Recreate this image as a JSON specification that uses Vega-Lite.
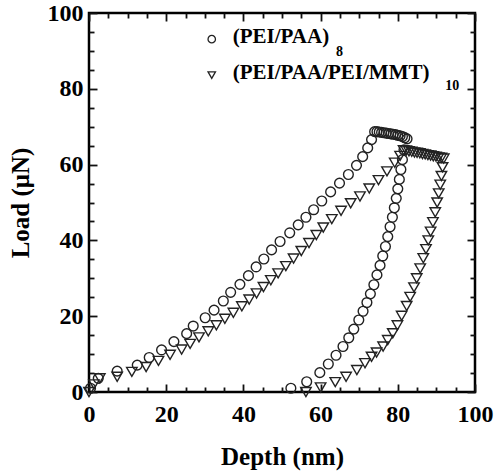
{
  "$schema": "https://vega.github.io/schema/vega-lite/v6.json",
  "width": 386,
  "height": 379,
  "autosize": "none",
  "padding": {"left": 89, "top": 13, "right": 20, "bottom": 83},
  "config": {
    "font": "Liberation Serif",
    "view": {"stroke": "#000", "strokeWidth": 2.5},
    "axis": {
      "domain": false,
      "grid": false,
      "ticks": true,
      "tickColor": "#111",
      "tickWidth": 1.8,
      "tickOpacity": 1,
      "zindex": 1,
      "labelFont": "Liberation Serif",
      "labelFontWeight": "bold",
      "labelFontSize": 24,
      "labelColor": "#000",
      "titleFont": "Liberation Serif",
      "titleFontWeight": "bold",
      "titleFontSize": 25,
      "titleColor": "#000"
    }
  },
  "datasets": {
    "curves": [
      {"series": "PEI/PAA", "depth": 0.4, "load": 1.0},
      {"series": "PEI/PAA", "depth": 2.4, "load": 3.6},
      {"series": "PEI/PAA", "depth": 7.3, "load": 5.5},
      {"series": "PEI/PAA", "depth": 12.5, "load": 7.1},
      {"series": "PEI/PAA", "depth": 15.6, "load": 9.1},
      {"series": "PEI/PAA", "depth": 18.8, "load": 11.1},
      {"series": "PEI/PAA", "depth": 22.0, "load": 13.3},
      {"series": "PEI/PAA", "depth": 25.3, "load": 15.4},
      {"series": "PEI/PAA", "depth": 27.0, "load": 17.4},
      {"series": "PEI/PAA", "depth": 30.1, "load": 19.6},
      {"series": "PEI/PAA", "depth": 32.4, "load": 21.6},
      {"series": "PEI/PAA", "depth": 34.8, "load": 24.0},
      {"series": "PEI/PAA", "depth": 36.7, "load": 26.3},
      {"series": "PEI/PAA", "depth": 39.1, "load": 28.4},
      {"series": "PEI/PAA", "depth": 41.3, "load": 30.7},
      {"series": "PEI/PAA", "depth": 43.3, "load": 33.0},
      {"series": "PEI/PAA", "depth": 45.3, "load": 35.1},
      {"series": "PEI/PAA", "depth": 47.3, "load": 37.5},
      {"series": "PEI/PAA", "depth": 49.5, "load": 39.7},
      {"series": "PEI/PAA", "depth": 52.0, "load": 42.0},
      {"series": "PEI/PAA", "depth": 54.2, "load": 44.1},
      {"series": "PEI/PAA", "depth": 56.2, "load": 46.1},
      {"series": "PEI/PAA", "depth": 58.2, "load": 48.1},
      {"series": "PEI/PAA", "depth": 60.3, "load": 50.4},
      {"series": "PEI/PAA", "depth": 62.6, "load": 52.8},
      {"series": "PEI/PAA", "depth": 64.9, "load": 55.1},
      {"series": "PEI/PAA", "depth": 67.2, "load": 57.4},
      {"series": "PEI/PAA", "depth": 69.3, "load": 59.8},
      {"series": "PEI/PAA", "depth": 70.9, "load": 62.1},
      {"series": "PEI/PAA", "depth": 72.2, "load": 64.4},
      {"series": "PEI/PAA", "depth": 73.2, "load": 66.6},
      {"series": "PEI/PAA", "depth": 74.0, "load": 68.7},
      {"series": "PEI/PAA", "depth": 74.6, "load": 68.7},
      {"series": "PEI/PAA", "depth": 75.2, "load": 68.6},
      {"series": "PEI/PAA", "depth": 75.8, "load": 68.5},
      {"series": "PEI/PAA", "depth": 76.4, "load": 68.4},
      {"series": "PEI/PAA", "depth": 77.0, "load": 68.3},
      {"series": "PEI/PAA", "depth": 77.6, "load": 68.2},
      {"series": "PEI/PAA", "depth": 78.2, "load": 68.1},
      {"series": "PEI/PAA", "depth": 78.8, "load": 68.0},
      {"series": "PEI/PAA", "depth": 79.4, "load": 67.9},
      {"series": "PEI/PAA", "depth": 80.0, "load": 67.7},
      {"series": "PEI/PAA", "depth": 80.6, "load": 67.6},
      {"series": "PEI/PAA", "depth": 81.2, "load": 67.4},
      {"series": "PEI/PAA", "depth": 81.8, "load": 67.1},
      {"series": "PEI/PAA", "depth": 82.4, "load": 66.8},
      {"series": "PEI/PAA", "depth": 81.6, "load": 63.9},
      {"series": "PEI/PAA", "depth": 81.2, "load": 61.3},
      {"series": "PEI/PAA", "depth": 80.8, "load": 58.7},
      {"series": "PEI/PAA", "depth": 80.4, "load": 56.1},
      {"series": "PEI/PAA", "depth": 80.0, "load": 53.6},
      {"series": "PEI/PAA", "depth": 79.6, "load": 51.1},
      {"series": "PEI/PAA", "depth": 79.1, "load": 48.6},
      {"series": "PEI/PAA", "depth": 78.6, "load": 46.1},
      {"series": "PEI/PAA", "depth": 78.0, "load": 43.6},
      {"series": "PEI/PAA", "depth": 77.4, "load": 41.0},
      {"series": "PEI/PAA", "depth": 76.8, "load": 38.4},
      {"series": "PEI/PAA", "depth": 76.1, "load": 35.9},
      {"series": "PEI/PAA", "depth": 75.4, "load": 33.4},
      {"series": "PEI/PAA", "depth": 74.6, "load": 30.9},
      {"series": "PEI/PAA", "depth": 73.8, "load": 28.3},
      {"series": "PEI/PAA", "depth": 72.9, "load": 25.9},
      {"series": "PEI/PAA", "depth": 72.0, "load": 23.6},
      {"series": "PEI/PAA", "depth": 71.0, "load": 21.3},
      {"series": "PEI/PAA", "depth": 69.9, "load": 19.0},
      {"series": "PEI/PAA", "depth": 68.6, "load": 16.6},
      {"series": "PEI/PAA", "depth": 67.3, "load": 14.3},
      {"series": "PEI/PAA", "depth": 65.8, "load": 12.0},
      {"series": "PEI/PAA", "depth": 64.0, "load": 9.7},
      {"series": "PEI/PAA", "depth": 62.0, "load": 7.4},
      {"series": "PEI/PAA", "depth": 59.8, "load": 5.1},
      {"series": "PEI/PAA", "depth": 56.4, "load": 2.7},
      {"series": "PEI/PAA", "depth": 52.3, "load": 1.0},

      {"series": "PEI/PAA/PEI/MMT", "depth": 0.0, "load": 0.0},
      {"series": "PEI/PAA/PEI/MMT", "depth": 1.3, "load": 2.0},
      {"series": "PEI/PAA/PEI/MMT", "depth": 2.8, "load": 3.6},
      {"series": "PEI/PAA/PEI/MMT", "depth": 7.3, "load": 4.0},
      {"series": "PEI/PAA/PEI/MMT", "depth": 11.1, "load": 5.3},
      {"series": "PEI/PAA/PEI/MMT", "depth": 14.8, "load": 6.6},
      {"series": "PEI/PAA/PEI/MMT", "depth": 18.0, "load": 8.2},
      {"series": "PEI/PAA/PEI/MMT", "depth": 21.0, "load": 9.8},
      {"series": "PEI/PAA/PEI/MMT", "depth": 24.0, "load": 11.2},
      {"series": "PEI/PAA/PEI/MMT", "depth": 26.2, "load": 12.7},
      {"series": "PEI/PAA/PEI/MMT", "depth": 28.5, "load": 14.4},
      {"series": "PEI/PAA/PEI/MMT", "depth": 30.9, "load": 16.0},
      {"series": "PEI/PAA/PEI/MMT", "depth": 33.0, "load": 17.6},
      {"series": "PEI/PAA/PEI/MMT", "depth": 35.2, "load": 19.3},
      {"series": "PEI/PAA/PEI/MMT", "depth": 37.4, "load": 20.9},
      {"series": "PEI/PAA/PEI/MMT", "depth": 39.6, "load": 22.6},
      {"series": "PEI/PAA/PEI/MMT", "depth": 41.5, "load": 24.4},
      {"series": "PEI/PAA/PEI/MMT", "depth": 43.4, "load": 26.0},
      {"series": "PEI/PAA/PEI/MMT", "depth": 45.2, "load": 27.7},
      {"series": "PEI/PAA/PEI/MMT", "depth": 47.1, "load": 29.5},
      {"series": "PEI/PAA/PEI/MMT", "depth": 49.0, "load": 31.3},
      {"series": "PEI/PAA/PEI/MMT", "depth": 51.0, "load": 33.2},
      {"series": "PEI/PAA/PEI/MMT", "depth": 53.0, "load": 35.2},
      {"series": "PEI/PAA/PEI/MMT", "depth": 55.0, "load": 37.2},
      {"series": "PEI/PAA/PEI/MMT", "depth": 57.0, "load": 39.3},
      {"series": "PEI/PAA/PEI/MMT", "depth": 58.9, "load": 41.4},
      {"series": "PEI/PAA/PEI/MMT", "depth": 60.7, "load": 43.4},
      {"series": "PEI/PAA/PEI/MMT", "depth": 62.9, "load": 45.6},
      {"series": "PEI/PAA/PEI/MMT", "depth": 65.3, "load": 47.8},
      {"series": "PEI/PAA/PEI/MMT", "depth": 67.8, "load": 49.8},
      {"series": "PEI/PAA/PEI/MMT", "depth": 70.2, "load": 51.6},
      {"series": "PEI/PAA/PEI/MMT", "depth": 72.6, "load": 53.7},
      {"series": "PEI/PAA/PEI/MMT", "depth": 75.0, "load": 55.9},
      {"series": "PEI/PAA/PEI/MMT", "depth": 77.2, "load": 58.2},
      {"series": "PEI/PAA/PEI/MMT", "depth": 79.2, "load": 60.5},
      {"series": "PEI/PAA/PEI/MMT", "depth": 80.6, "load": 62.3},
      {"series": "PEI/PAA/PEI/MMT", "depth": 81.5, "load": 63.8},
      {"series": "PEI/PAA/PEI/MMT", "depth": 82.2, "load": 63.7},
      {"series": "PEI/PAA/PEI/MMT", "depth": 82.9, "load": 63.5},
      {"series": "PEI/PAA/PEI/MMT", "depth": 83.6, "load": 63.4},
      {"series": "PEI/PAA/PEI/MMT", "depth": 84.3, "load": 63.2},
      {"series": "PEI/PAA/PEI/MMT", "depth": 85.0, "load": 63.1},
      {"series": "PEI/PAA/PEI/MMT", "depth": 85.7, "load": 63.0},
      {"series": "PEI/PAA/PEI/MMT", "depth": 86.4, "load": 62.8},
      {"series": "PEI/PAA/PEI/MMT", "depth": 87.1, "load": 62.7},
      {"series": "PEI/PAA/PEI/MMT", "depth": 87.8, "load": 62.5},
      {"series": "PEI/PAA/PEI/MMT", "depth": 88.5, "load": 62.4},
      {"series": "PEI/PAA/PEI/MMT", "depth": 89.2, "load": 62.2},
      {"series": "PEI/PAA/PEI/MMT", "depth": 89.9, "load": 62.1},
      {"series": "PEI/PAA/PEI/MMT", "depth": 90.6, "load": 61.9},
      {"series": "PEI/PAA/PEI/MMT", "depth": 91.3, "load": 61.8},
      {"series": "PEI/PAA/PEI/MMT", "depth": 91.9, "load": 61.6},
      {"series": "PEI/PAA/PEI/MMT", "depth": 91.6, "load": 59.3},
      {"series": "PEI/PAA/PEI/MMT", "depth": 91.3, "load": 57.0},
      {"series": "PEI/PAA/PEI/MMT", "depth": 91.0, "load": 54.7},
      {"series": "PEI/PAA/PEI/MMT", "depth": 90.6, "load": 52.4},
      {"series": "PEI/PAA/PEI/MMT", "depth": 90.2, "load": 50.0},
      {"series": "PEI/PAA/PEI/MMT", "depth": 89.7, "load": 47.4},
      {"series": "PEI/PAA/PEI/MMT", "depth": 89.1, "load": 44.8},
      {"series": "PEI/PAA/PEI/MMT", "depth": 88.5, "load": 42.3},
      {"series": "PEI/PAA/PEI/MMT", "depth": 87.9, "load": 40.0},
      {"series": "PEI/PAA/PEI/MMT", "depth": 87.3, "load": 37.7},
      {"series": "PEI/PAA/PEI/MMT", "depth": 86.6, "load": 35.3},
      {"series": "PEI/PAA/PEI/MMT", "depth": 85.8, "load": 32.6},
      {"series": "PEI/PAA/PEI/MMT", "depth": 84.9, "load": 30.0},
      {"series": "PEI/PAA/PEI/MMT", "depth": 84.2, "load": 27.6},
      {"series": "PEI/PAA/PEI/MMT", "depth": 83.2, "load": 25.1},
      {"series": "PEI/PAA/PEI/MMT", "depth": 82.3, "load": 22.7},
      {"series": "PEI/PAA/PEI/MMT", "depth": 81.0, "load": 20.1},
      {"series": "PEI/PAA/PEI/MMT", "depth": 79.9, "load": 17.6},
      {"series": "PEI/PAA/PEI/MMT", "depth": 78.7, "load": 15.5},
      {"series": "PEI/PAA/PEI/MMT", "depth": 77.4, "load": 13.7},
      {"series": "PEI/PAA/PEI/MMT", "depth": 76.2, "load": 12.0},
      {"series": "PEI/PAA/PEI/MMT", "depth": 74.5, "load": 10.4},
      {"series": "PEI/PAA/PEI/MMT", "depth": 73.2, "load": 9.3},
      {"series": "PEI/PAA/PEI/MMT", "depth": 71.5, "load": 7.6},
      {"series": "PEI/PAA/PEI/MMT", "depth": 69.4, "load": 5.8},
      {"series": "PEI/PAA/PEI/MMT", "depth": 66.6, "load": 4.0},
      {"series": "PEI/PAA/PEI/MMT", "depth": 63.8, "load": 2.6},
      {"series": "PEI/PAA/PEI/MMT", "depth": 60.0, "load": 1.2},
      {"series": "PEI/PAA/PEI/MMT", "depth": 56.2, "load": 0.0}
    ],
    "key": [
      {"series": "PEI/PAA", "depth": 31.8, "load": 93.1, "name": "(PEI/PAA)", "sub": "8", "subDepth": 64.0, "subLoad": 89.6},
      {"series": "PEI/PAA/PEI/MMT", "depth": 31.8, "load": 83.6, "name": "(PEI/PAA/PEI/MMT)", "sub": "10", "subDepth": 92.3, "subLoad": 80.8}
    ]
  },
  "resolve": {"axis": {"x": "independent", "y": "independent"}},
  "layer": [
    {
      "data": {"name": "curves"},
      "transform": [{"filter": "datum.series === 'PEI/PAA'"}],
      "mark": {"type": "point", "shape": "circle", "size": 95, "filled": false, "stroke": "#222", "strokeWidth": 1.4, "opacity": 1},
      "encoding": {
        "x": {"field": "depth", "type": "quantitative", "scale": {"domain": [0, 100], "nice": false},
          "axis": {"orient": "bottom", "values": [0, 20, 40, 60, 80, 100], "tickSize": -8, "labelPadding": 18, "title": "Depth (nm)", "titlePadding": 18, "labelFlush": false}},
        "y": {"field": "load", "type": "quantitative", "scale": {"domain": [0, 100], "nice": false},
          "axis": {"orient": "left", "values": [0, 20, 40, 60, 80, 100], "tickSize": -8, "labelPadding": 14, "title": "Load (μN)", "titlePadding": 14, "labelFlush": false}}
      }
    },
    {
      "data": {"name": "curves"},
      "transform": [{"filter": "datum.series === 'PEI/PAA/PEI/MMT'"}],
      "mark": {"type": "point", "shape": "triangle-down", "size": 110, "filled": false, "stroke": "#222", "strokeWidth": 1.4, "opacity": 1},
      "encoding": {
        "x": {"field": "depth", "type": "quantitative",
          "axis": {"orient": "bottom", "values": [5, 10, 15, 25, 30, 35, 45, 50, 55, 65, 70, 75, 85, 90, 95], "tickSize": -5, "labels": false, "title": null}},
        "y": {"field": "load", "type": "quantitative",
          "axis": {"orient": "left", "values": [5, 10, 15, 25, 30, 35, 45, 50, 55, 65, 70, 75, 85, 90, 95], "tickSize": -5, "labels": false, "title": null}}
      }
    },
    {
      "data": {"name": "key"},
      "mark": {"type": "point", "size": 55, "filled": false, "stroke": "#222", "strokeWidth": 1.3, "opacity": 1},
      "encoding": {
        "x": {"field": "depth", "type": "quantitative",
          "axis": {"orient": "top", "values": [0, 20, 40, 60, 80, 100], "tickSize": -8, "labels": false, "title": null}},
        "y": {"field": "load", "type": "quantitative",
          "axis": {"orient": "right", "values": [0, 20, 40, 60, 80, 100], "tickSize": -8, "labels": false, "title": null}},
        "shape": {"field": "series", "type": "nominal", "scale": {"domain": ["PEI/PAA", "PEI/PAA/PEI/MMT"], "range": ["circle", "triangle-down"]}, "legend": null}
      }
    },
    {
      "data": {"name": "key"},
      "mark": {"type": "text", "align": "left", "baseline": "middle", "font": "Liberation Serif", "fontWeight": "bold", "fontSize": 21, "color": "#000"},
      "encoding": {
        "x": {"field": "depth", "type": "quantitative",
          "axis": {"orient": "top", "values": [5, 10, 15, 25, 30, 35, 45, 50, 55, 65, 70, 75, 85, 90, 95], "tickSize": -5, "labels": false, "title": null}},
        "y": {"field": "load", "type": "quantitative",
          "axis": {"orient": "right", "values": [5, 10, 15, 25, 30, 35, 45, 50, 55, 65, 70, 75, 85, 90, 95], "tickSize": -5, "labels": false, "title": null}},
        "xOffset": {"value": 21},
        "yOffset": {"value": -2},
        "text": {"field": "name"}
      }
    },
    {
      "data": {"name": "key"},
      "mark": {"type": "text", "align": "left", "baseline": "middle", "font": "Liberation Serif", "fontWeight": "bold", "fontSize": 14, "color": "#000"},
      "encoding": {
        "x": {"field": "subDepth", "type": "quantitative", "axis": null},
        "y": {"field": "subLoad", "type": "quantitative", "axis": null},
        "text": {"field": "sub"}
      }
    }
  ]
}
